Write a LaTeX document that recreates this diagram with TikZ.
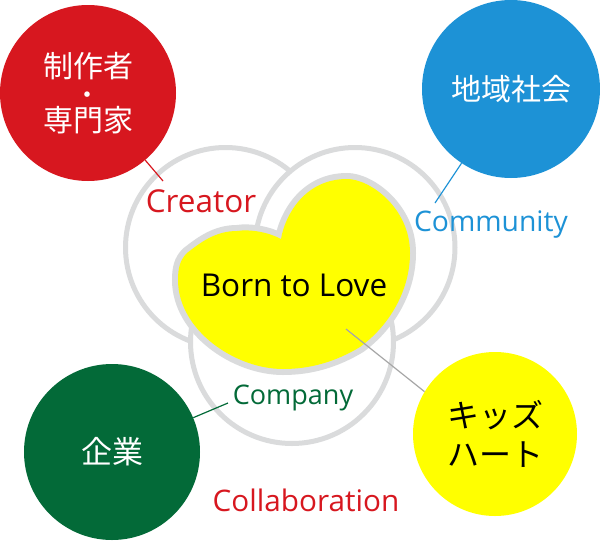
\documentclass[tikz,border=0pt]{standalone}
\usepackage{fontspec}
\setmainfont{Open Sans}
\newfontfamily\jpfont{Noto Sans CJK JP}
\definecolor{makerred}{HTML}{D7171F}
\definecolor{localblue}{HTML}{1D92D6}
\definecolor{firmgreen}{HTML}{036A38}
\definecolor{ringgray}{HTML}{DADBDC}
\definecolor{heartyellow}{rgb}{1,1,0}
\tikzset{
    ring/.style={circle, draw=ringgray, line width=5pt, fill=white, minimum size=200pt, inner sep=0pt}, % Grey rings
    party/.style={circle, minimum size=176pt, inner sep=0pt, align=center, text=white}, % Big discs
    tag/.style={inner sep=0pt}, % Latin labels
}
\begin{document}
\begin{tikzpicture}[x=1pt, y=-1pt]
    \useasboundingbox (0,0) rectangle (600,544);

    % --- Rings ---
    \node[ring] (ringleft) at (225.5,247.5) {};
    \node[ring] (ringright) at (355,247.5) {};
    \node[ring, minimum size=203pt] (ringbottom) at (292,342) {};

    % --- Heart ---
    \path[fill=heartyellow, line join=round, preaction={draw=ringgray, line width=12pt}]
        (281,239) .. controls (285,215) and (305,179) .. (347,179)
        .. controls (370,179) and (410,208) .. (410,253)
        .. controls (410,290) and (390,325) .. (360,347)
        .. controls (335,362) and (310,369) .. (283,369)
        .. controls (235,369) and (178,330) .. (178,280)
        .. controls (178,268) and (180,260) .. (187,253)
        .. controls (200,243) and (215,231) .. (237,231)
        .. controls (250,229) and (268,232) .. (281,239) -- cycle;

    % --- Discs ---
    \node[party, fill=makerred, font=\jpfont\fontsize{30}{27}\selectfont] (maker) at (88,93) {制作者\\{\fontsize{26}{27}\selectfont ・}\\専門家};
    \node[party, fill=localblue, minimum size=178pt, font=\jpfont\fontsize{30}{36}\selectfont] (local) at (511,89) {地域社会};
    \node[party, fill=firmgreen, font=\jpfont\fontsize{31}{36}\selectfont] (firm) at (112,452) {企業};
    \node[party, fill=heartyellow, text=black, minimum size=164pt, font=\jpfont\fontsize{32}{39}\selectfont] (kids) at (495,434) {キッズ\\ハート};

    % --- Labels ---
    \node[tag, text=makerred, font=\fontsize{31.5}{34}\selectfont] (creator) at (201,201) {Creator};
    \node[tag, text=localblue, font=\fontsize{28.3}{32}\selectfont] (community) at (491,225) {Community};
    \node[tag, text=firmgreen, font=\fontsize{27}{30}\selectfont] (company) at (293,398) {Company};
    \node[tag, text=makerred, font=\fontsize{29.7}{32}\selectfont] (collab) at (306,500) {Collaboration};
    \node[tag, text=black, font=\fontsize{31.5}{34}\selectfont] (born) at (294,285) {Born to Love};

    % --- Links ---
    \coordinate (creatortip) at (163,181);
    \coordinate (communitytip) at (435,203);
    \coordinate (companytip) at (228,403);
    \coordinate (hearttip) at (346,329);
    \path[line width=1.2pt]
        (maker) edge[makerred] (creatortip)
        (local) edge[localblue] (communitytip)
        (firm) edge[firmgreen] (companytip)
        (kids.149) edge[draw=black!35] (hearttip);
\end{tikzpicture}
\end{document}
